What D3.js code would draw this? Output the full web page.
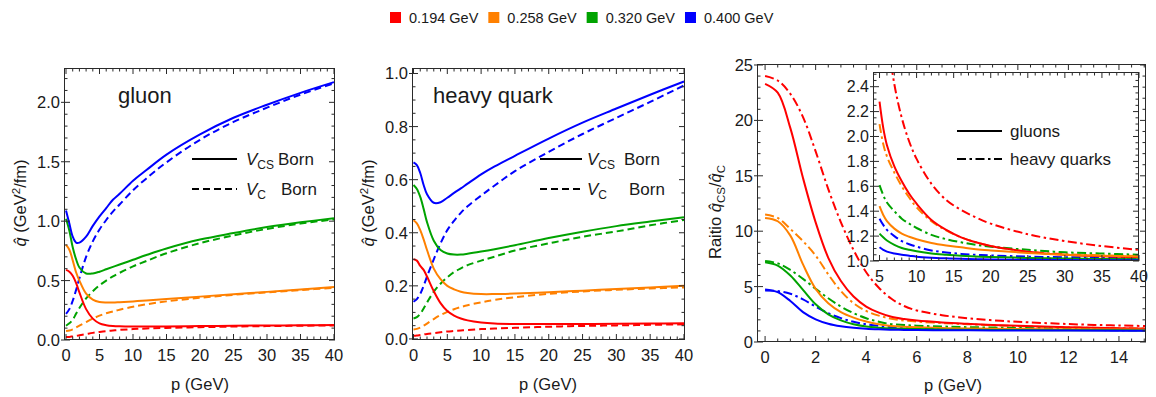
<!DOCTYPE html>
<html><head><meta charset="utf-8">
<script src="https://cdn.jsdelivr.net/npm/d3@7"></script>
<style>
body{margin:0;background:#fff}
svg{display:block}
text{font-family:"Liberation Sans",Arial,Helvetica,sans-serif;fill:#1a1a1a}
</style>
</head><body>
<svg id="c" width="1156" height="397"></svg>
<script>
// ---------------- DATA ----------------
const tempLabels = ["0.194 GeV", "0.258 GeV", "0.320 GeV", "0.400 GeV"];
const colors = ["#ff0000", "#ff8000", "#00a300", "#0000ff"];

// momentum grid for q-hat panels (GeV)
const pGrid = [0,0.5,1,1.5,2,3,4,5,6,7,8,10,12,15,20,25,30,35,40];

// gluon q-hat (GeV^2/fm), V_CS Born (solid) per temperature
const gluonVCS = [
  [0.59,0.575,0.54,0.48,0.40,0.26,0.18,0.14,0.125,0.118,0.115,0.113,0.113,0.114,0.117,0.12,0.122,0.124,0.126],
  [0.80,0.76,0.67,0.57,0.50,0.39,0.34,0.32,0.315,0.315,0.318,0.325,0.333,0.345,0.365,0.385,0.405,0.425,0.445],
  [1.02,0.92,0.78,0.68,0.61,0.56,0.56,0.575,0.595,0.615,0.635,0.675,0.715,0.77,0.845,0.90,0.95,0.99,1.025],
  [1.09,0.98,0.87,0.82,0.82,0.87,0.96,1.04,1.11,1.18,1.23,1.34,1.43,1.56,1.73,1.87,1.98,2.08,2.17]
];
// gluon q-hat, V_C Born (dashed)
const gluonVC = [
  [0.025,0.026,0.03,0.034,0.04,0.05,0.06,0.068,0.075,0.08,0.085,0.092,0.097,0.102,0.108,0.113,0.117,0.12,0.123],
  [0.075,0.08,0.09,0.105,0.12,0.15,0.18,0.205,0.225,0.24,0.255,0.28,0.30,0.325,0.355,0.38,0.40,0.42,0.44],
  [0.12,0.14,0.17,0.22,0.27,0.35,0.41,0.46,0.50,0.535,0.565,0.62,0.665,0.73,0.815,0.88,0.935,0.98,1.015],
  [0.22,0.26,0.33,0.42,0.52,0.70,0.83,0.93,1.01,1.08,1.14,1.26,1.36,1.495,1.685,1.835,1.955,2.065,2.16]
];
// heavy quark q-hat, V_CS Born (solid)
const quarkVCS = [
  [0.30,0.295,0.275,0.26,0.235,0.18,0.135,0.105,0.088,0.077,0.07,0.062,0.058,0.056,0.056,0.056,0.057,0.058,0.059],
  [0.447,0.435,0.41,0.375,0.335,0.265,0.225,0.20,0.187,0.178,0.173,0.169,0.169,0.171,0.176,0.182,0.188,0.194,0.20],
  [0.58,0.565,0.535,0.49,0.44,0.37,0.335,0.322,0.318,0.318,0.321,0.329,0.338,0.353,0.38,0.404,0.425,0.442,0.458],
  [0.665,0.655,0.625,0.58,0.545,0.513,0.515,0.532,0.55,0.567,0.585,0.62,0.65,0.69,0.755,0.815,0.868,0.92,0.97]
];
// heavy quark q-hat, V_C Born (dashed)
const quarkVC = [
  [0.012,0.013,0.015,0.017,0.019,0.022,0.025,0.028,0.03,0.032,0.034,0.037,0.039,0.042,0.046,0.049,0.051,0.053,0.055],
  [0.036,0.038,0.043,0.05,0.058,0.075,0.09,0.102,0.112,0.12,0.127,0.138,0.147,0.157,0.17,0.179,0.185,0.19,0.194],
  [0.077,0.082,0.095,0.115,0.137,0.178,0.208,0.232,0.252,0.266,0.278,0.295,0.31,0.333,0.36,0.385,0.405,0.428,0.448],
  [0.14,0.15,0.17,0.20,0.235,0.30,0.36,0.41,0.445,0.475,0.50,0.54,0.578,0.632,0.705,0.772,0.833,0.893,0.955]
];

// momentum grid for ratio panel
const rGrid = [0,0.5,1,1.5,2,2.5,3,3.5,4,4.5,5,5.5,6,7,8,9,10,12,14,16,18,20,25,30,35,40];
// ratio q_CS / q_C for gluons (solid)
const ratioGluon = [
  [23.3,22.5,19.3,14.8,10.8,7.6,5.5,4.1,3.2,2.65,2.28,2.07,1.93,1.76,1.64,1.54,1.46,1.33,1.25,1.19,1.15,1.12,1.075,1.05,1.038,1.03],
  [11.2,10.9,9.6,7.0,4.8,3.5,2.7,2.2,1.85,1.6,1.44,1.37,1.32,1.26,1.22,1.195,1.175,1.145,1.125,1.11,1.095,1.085,1.065,1.05,1.042,1.036],
  [7.2,6.9,6.0,4.7,3.4,2.5,1.95,1.6,1.4,1.29,1.22,1.19,1.165,1.13,1.105,1.09,1.078,1.06,1.05,1.042,1.036,1.032,1.025,1.02,1.017,1.015],
  [4.75,4.5,3.7,2.7,2.05,1.65,1.42,1.28,1.19,1.14,1.11,1.09,1.075,1.06,1.05,1.043,1.035,1.027,1.022,1.018,1.015,1.013,1.01,1.008,1.007,1.006]
];
// ratio for heavy quarks (dash-dot)
const ratioQuark = [
  [24.0,23.6,22.4,20.3,17.2,13.8,10.8,8.3,6.3,4.9,3.9,3.25,2.85,2.42,2.15,1.96,1.82,1.62,1.49,1.41,1.35,1.30,1.215,1.16,1.12,1.09],
  [11.5,11.2,10.2,9.1,7.8,6.1,4.6,3.5,2.8,2.38,2.1,1.94,1.84,1.71,1.6,1.51,1.43,1.32,1.245,1.19,1.15,1.12,1.075,1.055,1.045,1.04],
  [7.3,7.1,6.5,5.7,4.8,3.95,3.2,2.6,2.15,1.83,1.61,1.53,1.47,1.40,1.34,1.30,1.265,1.21,1.175,1.15,1.13,1.115,1.09,1.07,1.06,1.05],
  [4.65,4.6,4.35,3.85,3.2,2.6,2.15,1.82,1.6,1.45,1.34,1.29,1.25,1.20,1.16,1.135,1.115,1.085,1.068,1.057,1.05,1.045,1.035,1.03,1.027,1.025]
];

// tick labels
const xTicksQ = [0,5,10,15,20,25,30,35,40];
const yTicksGluon = [0,0.5,1.0,1.5,2.0];
const yTicksQuark = [0,0.2,0.4,0.6,0.8,1.0];
const xTicksRatio = [0,2,4,6,8,10,12,14];
const yTicksRatio = [0,5,10,15,20,25];
const xTicksInset = [5,10,15,20,25,30,35,40];
const yTicksInset = [1.0,1.2,1.4,1.6,1.8,2.0,2.2,2.4];

// ---------------- DRAW ----------------
const svg = d3.select("#c");
const FRAME = "#2a2a2a";
let clipId = 0;

function makePanel(o) {
  const x = d3.scaleLinear().domain(o.xd).range([o.L, o.R]);
  const y = d3.scaleLinear().domain(o.yd).range([o.B, o.T]);
  const g = svg.append("g");
  if (o.bg) g.append("rect").attr("x", o.L).attr("y", o.T).attr("width", o.R - o.L).attr("height", o.B - o.T).attr("fill", "#fff");
  const id = "clip" + (clipId++);
  svg.append("clipPath").attr("id", id).append("rect")
    .attr("x", o.L).attr("y", o.T).attr("width", o.R - o.L).attr("height", o.B - o.T);
  const plot = g.append("g").attr("clip-path", `url(#${id})`);
  return {x, y, g, plot, o};
}

function drawFrame(P, xMaj, xMinStep, yMaj, yMinStep, xFmt, yFmt, fs) {
  const {x, y, g, o} = P;
  const fg = g.append("g");
  const majL = 6, minL = 3.5;
  const [x0, x1] = x.domain(), [y0, y1] = y.domain();
  const eps = 1e-9;
  const xMinor = d3.range(Math.ceil(x0 / xMinStep) * xMinStep, x1 + eps, xMinStep).filter(v => !xMaj.some(m => Math.abs(m - v) < 1e-6));
  const yMinor = d3.range(Math.ceil(y0 / yMinStep) * yMinStep, y1 + eps, yMinStep).filter(v => !yMaj.some(m => Math.abs(m - v) < 1e-6));
  const seg = (x1_, y1_, x2_, y2_) => fg.append("line").attr("x1", x1_).attr("y1", y1_).attr("x2", x2_).attr("y2", y2_)
      .attr("stroke", FRAME).attr("stroke-width", 1);
  xMaj.forEach(v => { const px = x(v); seg(px, o.B, px, o.B - majL); seg(px, o.T, px, o.T + majL); });
  xMinor.forEach(v => { const px = x(v); seg(px, o.B, px, o.B - minL); seg(px, o.T, px, o.T + minL); });
  yMaj.forEach(v => { const py = y(v); seg(o.L - 3, py, o.L + majL, py); seg(o.R, py, o.R - majL, py); });
  yMinor.forEach(v => { const py = y(v); seg(o.L, py, o.L + minL, py); seg(o.R, py, o.R - minL, py); });
  fg.append("rect").attr("x", o.L + 0.5).attr("y", o.T + 0.5).attr("width", o.R - o.L - 1).attr("height", o.B - o.T - 1)
    .attr("fill", "none").attr("stroke", FRAME).attr("stroke-width", 1);
  // labels
  xMaj.forEach(v => fg.append("text").attr("x", x(v)).attr("y", o.B + 21).attr("text-anchor", "middle")
    .attr("font-size", fs).text(xFmt(v)));
  yMaj.forEach(v => fg.append("text").attr("x", o.L - 4).attr("y", y(v)).attr("dy", "0.36em").attr("text-anchor", "end")
    .attr("font-size", fs).text(yFmt(v)));
}

function drawSeries(P, grid, values, dash, filt) {
  const line = d3.line().x(d => P.x(d[0])).y(d => P.y(d[1])).curve(d3.curveCatmullRom.alpha(0.5));
  values.forEach((vals, i) => {
    const pts = grid.map((p, j) => [p, vals[j]]).filter(d => filt ? filt(d[0]) : true);
    P.plot.append("path").attr("d", line(pts)).attr("fill", "none")
      .attr("stroke", colors[i]).attr("stroke-width", 2)
      .attr("stroke-dasharray", dash || null).attr("stroke-linejoin", "round");
  });
}

const f1 = d3.format(".1f"), f0 = d3.format("d");
const DASH = "7,4";
const DASHDOT = "9,3.5,2.5,3.5";

// Panel 1: gluon
const P1 = makePanel({L: 64, R: 335, T: 68, B: 340, xd: [-0.3, 40.15], yd: [0, 2.289]});
drawSeries(P1, pGrid, gluonVC, DASH);
drawSeries(P1, pGrid, gluonVCS, null);
drawFrame(P1, xTicksQ, 1, yTicksGluon, 0.1, f0, f1, 16.5);

// Panel 2: heavy quark
const P2 = makePanel({L: 412, R: 685, T: 68, B: 340, xd: [-0.22, 40.15], yd: [-0.004, 1.0207]});
drawSeries(P2, pGrid, quarkVC, DASH);
drawSeries(P2, pGrid, quarkVCS, null);
drawFrame(P2, xTicksQ, 1, yTicksQuark, 0.05, f0, f1, 16.5);

// Panel 3: ratio
const P3 = makePanel({L: 757, R: 1146, T: 64, B: 342, xd: [-0.32, 15.07], yd: [0, 25.09]});
drawSeries(P3, rGrid, ratioQuark, DASHDOT, p => p <= 16);
drawSeries(P3, rGrid, ratioGluon, null, p => p <= 16);
drawFrame(P3, xTicksRatio, 0.5, yTicksRatio, 1, f0, f0, 16.5);

// Inset
const P4 = makePanel({L: 873, R: 1139, T: 72, B: 261, xd: [4.12, 40], yd: [1.0, 2.518], bg: true});
drawSeries(P4, rGrid, ratioQuark, DASHDOT, p => p >= 5);
drawSeries(P4, rGrid, ratioGluon, null, p => p >= 5);
drawFrame(P4, xTicksInset, 1, yTicksInset, 0.05, f0, f1, 16);

// ---------- texts ----------
function t(x, y, s, fs, anchor) {
  return svg.append("text").attr("x", x).attr("y", y).attr("font-size", fs)
    .attr("text-anchor", anchor || "start").text(s);
}
t(118, 103, "gluon", 22);
t(433, 103, "heavy quark", 22);

// axis titles
t(200, 390, "p (GeV)", 16.5, "middle");
t(548, 390, "p (GeV)", 16.5, "middle");
t(953, 391, "p (GeV)", 16.5, "middle");

function qhatLabel(cx, cy) {
  const tx = svg.append("text").attr("transform", `translate(${cx},${cy}) rotate(-90)`)
    .attr("text-anchor", "middle").attr("font-size", 16.5);
  tx.append("tspan").attr("font-style", "italic").text("q\u0302");
  tx.append("tspan").text(" (GeV");
  tx.append("tspan").attr("dy", -6).attr("font-size", 11.5).text("2");
  tx.append("tspan").attr("dy", 6).text("/fm)");
}
qhatLabel(26, 203);
qhatLabel(374, 203);

{
  const tx = svg.append("text").attr("transform", `translate(721,212) rotate(-90)`)
    .attr("text-anchor", "middle").attr("font-size", 16.5);
  tx.append("tspan").text("Raitio ");
  tx.append("tspan").attr("font-style", "italic").text("q\u0302");
  tx.append("tspan").attr("dy", 4).attr("font-size", 11.5).text("CS");
  tx.append("tspan").attr("dy", -4).text("/");
  tx.append("tspan").attr("font-style", "italic").text("q\u0302");
  tx.append("tspan").attr("dy", 4).attr("font-size", 11.5).text("C");
}

// V legends in panels 1 and 2
function vLegend(lx0, lx1, textX, bornX1, bornX2) {
  const rows = [{y: 159, sub: "CS", dash: null, born: bornX1}, {y: 189, sub: "C", dash: DASH, born: bornX2}];
  rows.forEach(r => {
    svg.append("line").attr("x1", lx0).attr("x2", lx1).attr("y1", r.y).attr("y2", r.y)
      .attr("stroke", "#000").attr("stroke-width", 2).attr("stroke-dasharray", r.dash);
    const tx = svg.append("text").attr("x", textX).attr("y", r.y + 6).attr("font-size", 17);
    tx.append("tspan").attr("font-style", "italic").text("V");
    tx.append("tspan").attr("dy", 4).attr("font-size", 12).text(r.sub);
    svg.append("text").attr("x", r.born).attr("y", r.y + 6).attr("font-size", 17).text("Born");
  });
}
vLegend(192, 237, 246, 278, 281);
vLegend(540, 582, 587, 624, 629);

// inset legend
svg.append("line").attr("x1", 957).attr("x2", 1002).attr("y1", 131).attr("y2", 131).attr("stroke", "#000").attr("stroke-width", 2);
svg.append("line").attr("x1", 957).attr("x2", 1002).attr("y1", 159).attr("y2", 159).attr("stroke", "#000").attr("stroke-width", 2).attr("stroke-dasharray", DASHDOT);
t(1010, 137, "gluons", 17);
t(1010, 165, "heavy quarks", 17);

// top legend
{
  let x = 390;
  tempLabels.forEach((s, i) => {
    svg.append("rect").attr("x", x).attr("y", 12).attr("width", 11).attr("height", 11).attr("fill", colors[i]);
    const tx = t(x + 19, 22.5, s, 14.5);
    x += 19 + tx.node().getComputedTextLength() + 10;
  });
}
</script>
</body></html>
